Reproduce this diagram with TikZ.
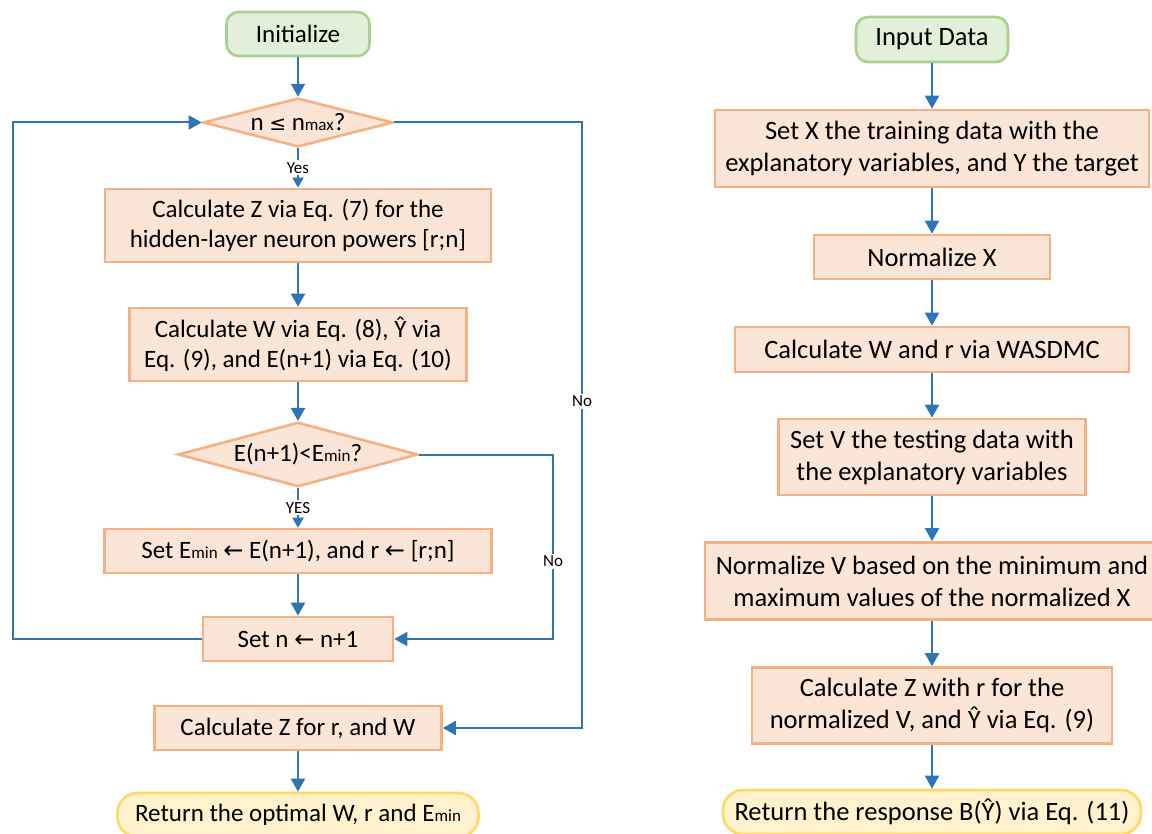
\documentclass[tikz,border=0pt]{standalone}
\usepackage{fontspec}
\setmainfont{Carlito}
\newfontfamily\symfont{DejaVu Sans}
\usetikzlibrary{shapes.geometric,arrows.meta}

\definecolor{stepfill}{HTML}{FBE5D6}
\definecolor{stepline}{HTML}{F4B183}
\definecolor{beginfill}{HTML}{E2F0D9}
\definecolor{beginline}{HTML}{A9D18E}
\definecolor{finishfill}{HTML}{FFF2CC}
\definecolor{finishline}{HTML}{FFD966}
\definecolor{flowblue}{HTML}{2E75B6}

\newcommand{\lowtxt}[1]{{\fontsize{17}{17}\selectfont #1}}
\newcommand{\larr}{{\symfont\fontsize{24}{24}\selectfont ←}}
\newcommand{\leqs}{{\symfont\fontsize{20}{20}\selectfont ≤}}

\begin{document}
\begin{tikzpicture}[x=1pt,y=-1pt,
    font=\fontsize{25}{30.5}\selectfont,
    stepbox/.style={rectangle,draw=stepline,fill=stepfill,line width=2.6pt,
      align=center,inner sep=0pt},
    testbox/.style={diamond,draw=stepline,fill=stepfill,line width=2.6pt,
      shape aspect=3,inner sep=0pt},
    beginbox/.style={rectangle,rounded corners=12pt,draw=beginline,
      fill=beginfill,line width=2.6pt,inner sep=0pt},
    finishbox/.style={rectangle,rounded corners=20pt,draw=finishline,
      fill=finishfill,line width=2.6pt,inner sep=0pt},
    flow/.style={draw=flowblue,line width=2pt,-{Triangle[length=13pt,width=14pt]}},
    flowsm/.style={draw=flowblue,line width=2pt,-{Triangle[length=10pt,width=11pt]}},
    tag/.style={fill=white,inner sep=2pt,font=\fontsize{17}{17}\selectfont}]
  \useasboundingbox (0,0) rectangle (1152,834);

  % left chart
  \node[beginbox,minimum width=143pt,minimum height=44pt] (init) at (298,34) {Initialize};
  \node[testbox,minimum width=190pt,minimum height=45pt] (nmax) at (298,122.5) {n \leqs{} n\lowtxt{max}?};
  \node[stepbox,minimum width=386pt,minimum height=73pt] (calcz) at (298,225.5)
    {Calculate Z via Eq. (7) for the\\hidden-layer neuron powers [r;n]};
  \node[stepbox,minimum width=337pt,minimum height=73pt] (calcw) at (298,344.5)
    {Calculate W via Eq. (8), Ŷ via\\Eq. (9), and E(n+1) via Eq. (10)};
  \node[testbox,minimum width=240pt,minimum height=57pt] (emin) at (298,454.5) {E(n+1)<E\lowtxt{min}?};
  \node[stepbox,minimum width=387pt,minimum height=44pt] (setemin) at (298,551)
    {Set E\lowtxt{min} \larr{} E(n+1), and r \larr{} [r;n]};
  \node[stepbox,minimum width=190pt,minimum height=44pt] (setn) at (298,639) {Set n \larr{} n+1};
  \node[stepbox,minimum width=287pt,minimum height=44pt] (finalz) at (298,728) {Calculate Z for r, and W};
  \node[finishbox,minimum width=361pt,minimum height=44pt] (retleft) at (298,815)
    {Return the optimal W, r and E\lowtxt{min}};

  \coordinate (loopleft) at (13,0);
  \coordinate (noouter) at (582,0);
  \coordinate (noinner) at (553,0);

  \draw[flow] (init) -- (nmax);
  \draw[flowsm] (nmax) -- node[tag]{Yes} (calcz);
  \draw[flow] (calcz) -- (calcw);
  \draw[flow] (calcw) -- (emin);
  \draw[flowsm] (emin) -- node[tag]{YES} (setemin);
  \draw[flow] (setemin) -- (setn);
  \draw[flow] (setn.west) -- (setn.west -| loopleft) |- (nmax.west);
  \draw[flow] (nmax.east) -- (nmax.east -| noouter) |- node[tag,pos=0.23]{No} (finalz.east);
  \draw[flow] (emin.east) -- (emin.east -| noinner) |- node[tag,pos=0.29]{No} (setn.east);
  \draw[flow] (finalz) -- (retleft);

  % right chart
  \begin{scope}[font=\fontsize{26.5}{32}\selectfont]
  \node[beginbox,minimum width=152pt,minimum height=45pt] (input) at (932,39.5) {Input Data};
  \node[stepbox,minimum width=434pt,minimum height=77pt] (setx) at (932,148.5)
    {Set X the training data with the\\explanatory variables, and Y the target};
  \node[stepbox,minimum width=236pt,minimum height=44pt] (normx) at (932,257) {Normalize X};
  \node[stepbox,minimum width=394pt,minimum height=45pt] (calcwr) at (932,349.5) {Calculate W and r via WASDMC};
  \node[stepbox,minimum width=307pt,minimum height=76pt] (setv) at (932,457)
    {Set V the testing data with\\the explanatory variables};
  \node[stepbox,minimum width=454pt,minimum height=77pt] (normv) at (932,581)
    {Normalize V based on the minimum and\\maximum values of the normalized X};
  \node[stepbox,minimum width=360pt,minimum height=76pt] (calczr) at (932,705.5)
    {Calculate Z with r for the\\normalized V, and Ŷ via Eq. (9)};
  \node[finishbox,minimum width=418pt,minimum height=44pt] (retright) at (932,812)
    {Return the response B(Ŷ) via Eq. (11)};
  \end{scope}

  \draw[flow] (input) -- (setx);
  \draw[flow] (setx) -- (normx);
  \draw[flow] (normx) -- (calcwr);
  \draw[flow] (calcwr) -- (setv);
  \draw[flow] (setv) -- (normv);
  \draw[flow] (normv) -- (calczr);
  \draw[flow] (calczr) -- (retright);
\end{tikzpicture}
\end{document}
